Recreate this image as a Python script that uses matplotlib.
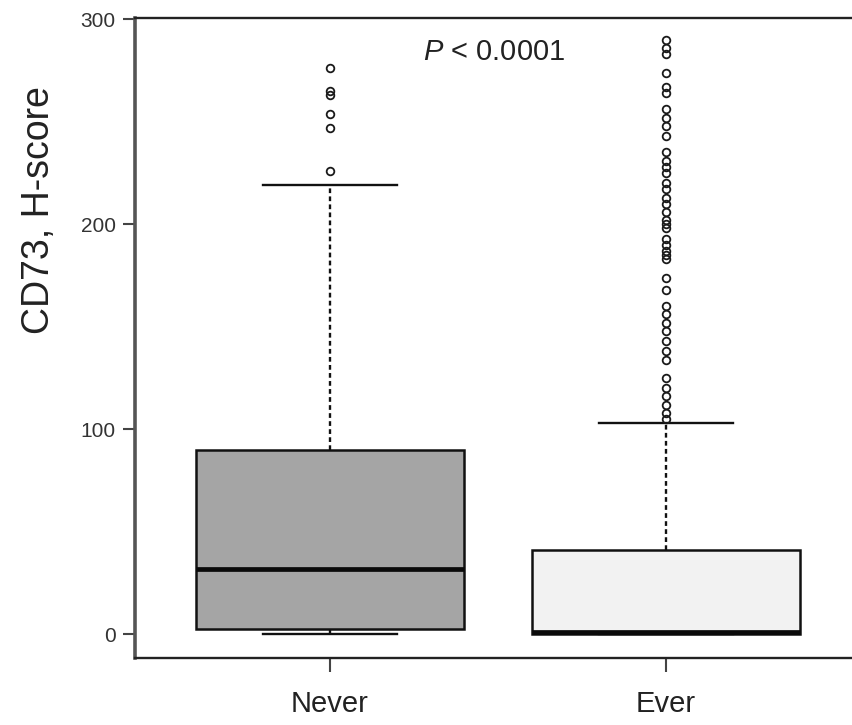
import numpy as np
import matplotlib
matplotlib.use("Agg")
import matplotlib.pyplot as plt

plt.rcParams.update({
    "font.family": ["Liberation Sans", "DejaVu Sans"],
    "mathtext.fontset": "custom",
    "mathtext.it": "Liberation Sans:italic",
    "mathtext.rm": "Liberation Sans",
})

# ---------- data ----------
groups = ["Never", "Ever"]
q1 = [2.5, 0.0]
medians = [32.0, 1.0]
q3 = [90.0, 41.0]
whisker_lo = [0.0, 0.0]
whisker_hi = [219.0, 103.0]
fliers_never = [276, 265, 263, 254, 247, 226]
fliers_ever = [290, 286, 283, 274, 267, 264, 256, 252, 248, 243, 235, 231,
               228, 225, 220, 217, 213, 210, 206, 202, 200, 198, 193, 190,
               187, 185, 183, 174, 168, 160, 156, 152, 148, 143, 138, 134,
               125, 120, 116, 112, 108, 105]
box_colors = ["#a5a5a5", "#f2f2f2"]
yticks = [0, 100, 200, 300]

stats = []
for i, g in enumerate(groups):
    stats.append({
        "label": g,
        "q1": q1[i], "med": medians[i], "q3": q3[i],
        "whislo": whisker_lo[i], "whishi": whisker_hi[i],
        "fliers": np.array([fliers_never, fliers_ever][i], dtype=float),
    })

# ---------- figure ----------
fig = plt.figure(figsize=(8.53, 7.25), dpi=100)
ax = fig.add_axes([0.1583, 0.0924, 0.851, 0.8828])

bp = ax.bxp(
    stats,
    positions=[1, 2],
    widths=0.8,
    patch_artist=True,
    boxprops=dict(edgecolor="#111111", linewidth=1.8),
    medianprops=dict(color="#0a0a0a", linewidth=3.4, solid_capstyle="butt"),
    whiskerprops=dict(color="#111111", linewidth=1.7, linestyle=(0, (2.0, 1.4))),
    capprops=dict(color="#111111", linewidth=1.7),
    capwidths=0.4,
    flierprops=dict(marker="o", markersize=5.5, markerfacecolor="none",
                    markeredgecolor="#1a1a1a", markeredgewidth=1.3),
)
for patch, c in zip(bp["boxes"], box_colors):
    patch.set_facecolor(c)

ax.set_xlim(0.42, 2.58)
ax.set_ylim(-11.6, 300.6)

ax.set_yticks(yticks)
ax.set_yticklabels([str(t) for t in yticks], fontsize=15, color="#333333")
ax.set_xticks([1, 2])
ax.set_xticklabels(groups, fontsize=21, color="#222222")
ax.tick_params(axis="y", length=9, width=1.5, pad=5, color="#444444")
ax.tick_params(axis="x", length=10, width=1.5, pad=13, color="#444444")

ax.set_ylabel("CD73, H-score", fontsize=27, color="#222222")
ax.yaxis.set_label_coords(-0.108, 0.70)

ax.spines["left"].set_linewidth(2.6)
ax.spines["left"].set_color("#555555")
for s in ["bottom", "top", "right"]:
    ax.spines[s].set_linewidth(1.7)
    ax.spines[s].set_color("#222222")

ax.text(1.49, 284, r"$P$ < 0.0001", fontsize=21, ha="center", va="center",
        color="#222222")

fig.savefig("out.png", dpi=100)
